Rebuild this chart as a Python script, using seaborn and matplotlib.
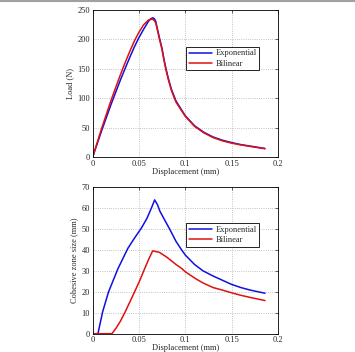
import pandas as pd
import matplotlib.pyplot as plt
import seaborn as sns
import numpy as np
from matplotlib.lines import Line2D
from matplotlib.ticker import FuncFormatter

# Load-displacement curves
disp_load = [0, 0.01, 0.02, 0.03, 0.036, 0.04, 0.045, 0.05, 0.055, 0.06, 0.0625, 0.0648,
             0.0665, 0.068, 0.0697, 0.072, 0.0748, 0.077, 0.079, 0.0816, 0.085, 0.09,
             0.1, 0.11, 0.12, 0.13, 0.14, 0.15, 0.16, 0.17, 0.18, 0.186]
load_exp = [0, 46, 90, 131, 154, 169, 187, 203, 217, 230, 234.5, 236.5,
            235, 231, 219, 203, 185, 166, 151, 134, 115, 95,
            70, 53, 42, 34, 28.5, 24.5, 21, 18.5, 16, 14.5]
load_bil = [0, 50, 97, 140, 164, 179, 197, 212, 224.5, 232.5, 234, 234,
            232, 228, 217, 201, 183, 164, 149, 132, 113, 93,
            69, 52, 41, 33, 27.5, 23.5, 20.5, 18, 15.5, 14]

# Cohesive zone size curves
disp_exp = [0, 0.0057, 0.0108, 0.0172, 0.0273, 0.038, 0.045, 0.0525, 0.0586, 0.0635,
            0.0669, 0.07, 0.0725, 0.078, 0.083, 0.09, 0.096, 0.1, 0.11, 0.119, 0.13,
            0.14, 0.15, 0.16, 0.17, 0.186]
cz_exp = [0, 0, 10.5, 20, 31, 40.7, 45.5, 50.3, 55, 60,
          63.8, 61.5, 58.5, 54, 50, 44, 40, 37.5, 33, 30, 27.5,
          25.5, 23.5, 22, 20.8, 19.3]
disp_bil = [0, 0.0208, 0.025, 0.03, 0.0352, 0.04, 0.0453, 0.051, 0.0561, 0.061, 0.0648,
            0.0669, 0.072, 0.08, 0.09, 0.0964, 0.1, 0.112, 0.12, 0.13, 0.14, 0.15, 0.16,
            0.17, 0.186]
cz_bil = [0, 0, 2.5, 6, 10.5, 15, 20, 25.5, 31, 36, 39.5,
          39.3, 38.8, 36.5, 33, 31, 29.5, 26, 24, 22, 20.8, 19.5, 18.3,
          17.3, 15.8]

sns.set_style("white")
plt.rcParams['font.family'] = ['Liberation Serif', 'DejaVu Serif']
plt.rcParams['font.size'] = 6

df_load = pd.concat([
    pd.DataFrame({'disp': disp_load, 'val': load_exp, 'model': 'Exponential'}),
    pd.DataFrame({'disp': disp_load, 'val': load_bil, 'model': 'Bilinear'}),
])
df_cz = pd.concat([
    pd.DataFrame({'disp': disp_exp, 'val': cz_exp, 'model': 'Exponential'}),
    pd.DataFrame({'disp': disp_bil, 'val': cz_bil, 'model': 'Bilinear'}),
])
colores = {'Exponential': '#1010e0', 'Bilinear': '#e01010'}

fig = plt.figure(figsize=(3.55, 3.52), dpi=100)
ax1 = fig.add_axes([0.261, 0.554, 0.522, 0.418])
ax2 = fig.add_axes([0.261, 0.052, 0.522, 0.417])

fmt = FuncFormatter(lambda v, p: ('%g' % round(v, 3)))

for ax, df, ylab, ymax, ystep, leg_y in [(ax1, df_load, 'Load (N)', 250, 50, 0.776),
                                         (ax2, df_cz, 'Cohesive zone size (mm)', 70, 10, 0.782)]:
    sns.lineplot(data=df, x='disp', y='val', hue='model', palette=colores,
                 sort=False, estimator=None, lw=1.1, ax=ax)
    ax.set_xlim(0, 0.2)
    ax.set_ylim(0, ymax)
    ax.set_xticks(np.arange(0, 0.21, 0.05))
    ax.set_yticks(np.arange(0, ymax + 1, ystep))
    ax.xaxis.set_major_formatter(fmt)
    ax.grid(True, ls=':', color='#b0b0b0', lw=0.6)
    ax.tick_params(direction='in', length=2.5, width=0.5, top=True, right=True,
                   labelsize=6, pad=2)
    for s in ax.spines.values():
        s.set_color('black')
        s.set_linewidth(0.6)
    ax.set_xlabel('Displacement (mm)', fontsize=6, labelpad=0)
    ax.set_ylabel(ylab, fontsize=6, labelpad=2)
    h, l = ax.get_legend_handles_labels()
    leg = ax.legend(h, l, loc='upper right', bbox_to_anchor=(0.92, leg_y), fontsize=6,
                    fancybox=False, framealpha=1, edgecolor='black', handlelength=2.8,
                    borderpad=0.3, labelspacing=0.3, handletextpad=0.4)
    leg.get_frame().set_linewidth(0.6)

# linea gris en la parte superior
fig.add_artist(Line2D([0, 1], [0.998, 0.998], color='#a0a0a0', lw=1.5))

fig.savefig('out.png', dpi=100)
